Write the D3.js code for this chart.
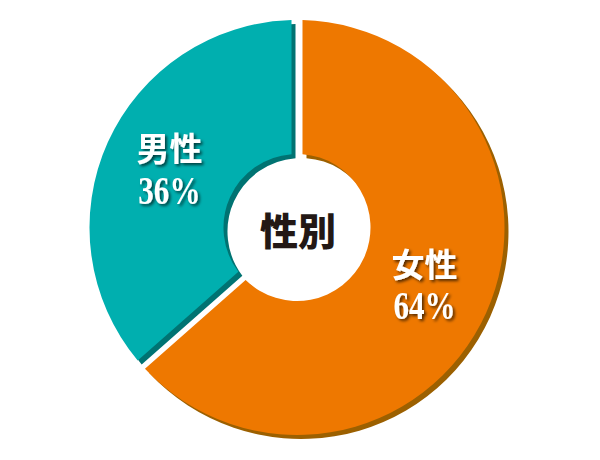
<!DOCTYPE html>
<html>
<head>
<meta charset="utf-8">
<script src="https://cdn.jsdelivr.net/npm/d3@7"></script>
<style>
    body { margin: 0; background: #fff; }
</style>
</head>
<body>
<div id="app"></div>
<script>
var categories = ["女性", "男性"];
var values = [64, 36];
var colors = ["#ee7800", "#00afaf"];
var shadowColors = ["#9c6000", "#007372"];
var centerTitle = "性別";

var chartW = 600;
var chartH = 460;
var cx = 297;
var cy = 227.5;
var outerR = 207.5;
var innerR = 73.5;
var shadowOff = 4;
var labelR = 140;

var svg = d3.select("#app")
    .append("svg")
    .attr("width", chartW)
    .attr("height", chartH);

var defs = svg.append("defs");
defs.append("filter")
    .attr("id", "txtShadow")
    .attr("x", "-20%").attr("y", "-20%")
    .attr("width", "140%").attr("height", "140%")
    .append("feDropShadow")
    .attr("dx", 2)
    .attr("dy", 2)
    .attr("stdDeviation", 1.5)
    .attr("flood-color", "#000")
    .attr("flood-opacity", 0.65);

var rows = categories.map(function (c, i) {
    return { name: c, value: values[i], color: colors[i], shadow: shadowColors[i] };
});

var pie = d3.pie()
    .sort(null)
    .value(function (d) { return d.value; })
    .padAngle(0.11);

var arc = d3.arc()
    .innerRadius(innerR)
    .outerRadius(outerR)
    .padRadius(100);

var labelArc = d3.arc()
    .innerRadius(labelR)
    .outerRadius(labelR);

var arcs = pie(rows);

var g = svg.append("g")
    .attr("transform", "translate(" + cx + "," + cy + ")");

//SHADOWS
g.selectAll(".shadow")
    .data(arcs)
    .enter()
    .append("path")
    .attr("class", "shadow")
    .attr("transform", "translate(" + shadowOff + "," + shadowOff + ")")
    .attr("d", arc)
    .style("fill", function (d) { return d.data.shadow; });

//SLICES
g.selectAll(".slice")
    .data(arcs)
    .enter()
    .append("path")
    .attr("class", "slice")
    .attr("d", arc)
    .style("fill", function (d) { return d.data.color; });

//LABELS
var labels = g.selectAll(".label")
    .data(arcs)
    .enter()
    .append("g")
    .attr("class", "label")
    .attr("transform", function (d) {
        var p = labelArc.centroid(d);
        return "translate(" + p[0] + "," + p[1] + ")";
    })
    .attr("filter", "url(#txtShadow)");

labels.append("text")
    .attr("x", 0)
    .attr("y", -8.5)
    .attr("text-anchor", "middle")
    .style("font-family", "'Noto Sans CJK JP', sans-serif")
    .style("font-weight", 700)
    .style("font-size", "33px")
    .style("fill", "#fff")
    .text(function (d) { return d.data.name; });

labels.append("text")
    .attr("x", 0)
    .attr("y", 34)
    .attr("transform", "scale(0.76,1)")
    .attr("text-anchor", "middle")
    .style("font-family", "'Liberation Serif', serif")
    .style("font-weight", 700)
    .style("font-size", "41px")
    .style("fill", "#fff")
    .text(function (d) { return d.data.value + "%"; });

//CENTER
g.append("text")
    .attr("x", 1)
    .attr("y", 17)
    .attr("text-anchor", "middle")
    .style("font-family", "'Noto Sans CJK JP', sans-serif")
    .style("font-weight", 900)
    .style("font-size", "38px")
    .style("fill", "#231815")
    .text(centerTitle);
</script>
</body>
</html>
